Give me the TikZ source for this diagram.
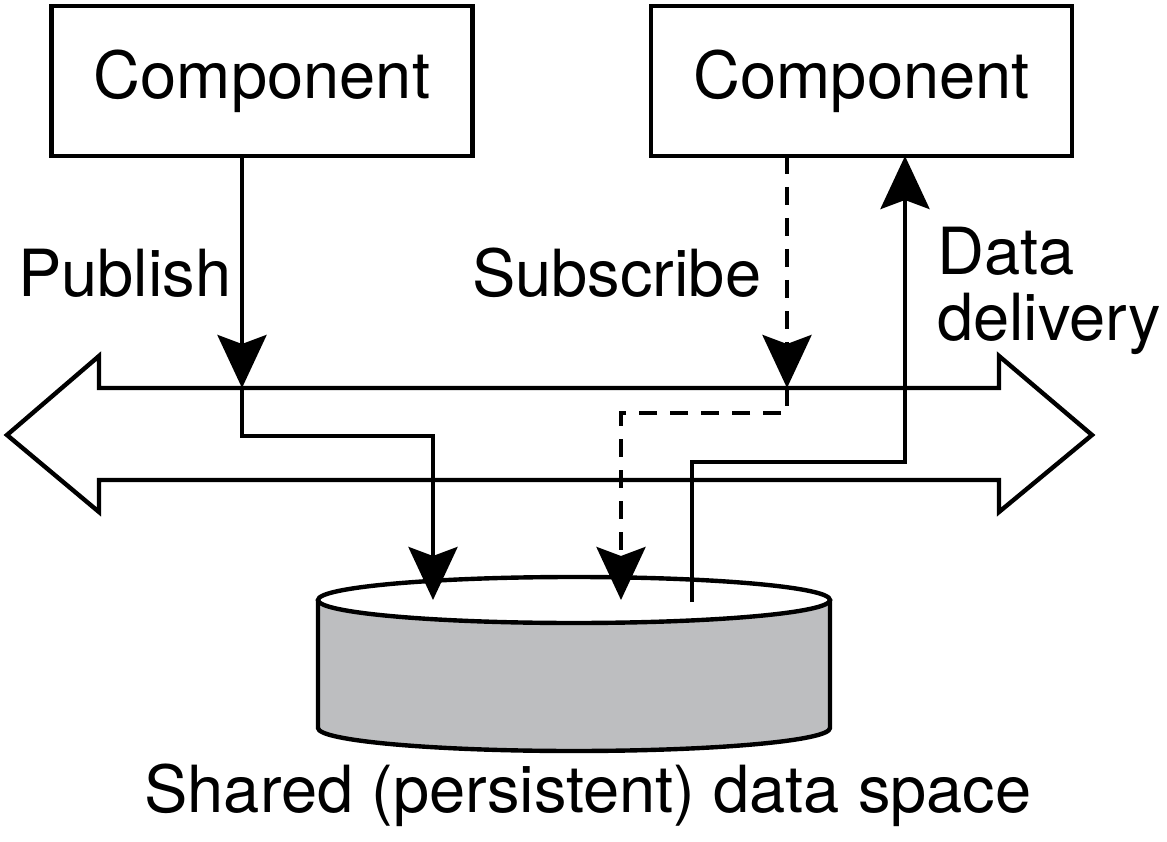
\documentclass[tikz,border=0pt]{standalone}
\usepackage{fontspec}
\setmainfont{TeX Gyre Heros}
\usetikzlibrary{arrows.meta}
\definecolor{cylgray}{RGB}{189,190,192}
\tikzset{
  lw/.style={line width=4.4pt},
  tip/.style={-{Stealth[length=53pt,width=49pt,inset=9pt]}},
  dsh/.style={dash pattern=on 18pt off 13pt},
  comp/.style={draw,lw,inner sep=0pt},
  lbl/.style={font=\fontsize{65}{78}\selectfont,inner sep=0pt},
}
\begin{document}
\begin{tikzpicture}[x=1pt,y=-1pt]
\useasboundingbox (0,0) rectangle (1167,842);
% components
\node[comp,minimum width=421pt,minimum height=150pt] (c1) at (262,81) {};
\node[lbl] (c1t) at (262,81) {Component};
\node[comp,minimum width=421pt,minimum height=150pt] (c2) at (861.5,81) {};
\node[lbl] (c2t) at (861.5,81) {Component};
% bus (double block arrow)
\draw[lw,line join=miter] (99,388) -- (99,356) -- (7,435) -- (99,512) -- (99,480) -- (999,480)
  -- (999,512) -- (1092,435) -- (999,356) -- (999,388) -- cycle;
% cylinder
\fill[cylgray] (318,600) -- (318,728) arc[start angle=180,end angle=360,x radius=256pt,y radius=23pt] -- (830,600) -- cycle;
\draw[lw] (318,600) -- (318,728) arc[start angle=180,end angle=360,x radius=256pt,y radius=23pt] -- (830,600);
\draw[lw,fill=white] (574,600) ellipse[x radius=256pt,y radius=23pt];
% coordinates
\coordinate (pubtop) at (242,156);
\coordinate (pubbus) at (242,388);
\coordinate (pubin) at (433,600);
\coordinate (subtop) at (787,156);
\coordinate (subbus) at (787,388);
\coordinate (subin) at (621,600);
\coordinate (dout) at (692,602);
\coordinate (dtop) at (905,156);
% publish
\draw[lw,tip] (pubtop) -- (pubbus);
\draw[lw,tip] (pubbus) -- (242,436) -- (433,436) -- (pubin);
% subscribe
\draw[lw,dsh,tip] (subtop) -- (subbus);
\draw[lw,dsh,tip] (subbus) -- (787,413) -- (621,413) -- (subin);
% data delivery
\draw[lw,tip] (dout) -- (692,462) -- (905,462) -- (dtop);
% labels
\node[lbl,anchor=base west] (lp) at (18,297) {Publish};
\node[lbl,anchor=base west] (ls) at (472,297) {Subscribe};
\node[lbl,anchor=base west] (ld1) at (937,275) {Data};
\node[lbl,anchor=base west] (ld2) at (937,340) {delivery};
\node[lbl,anchor=base] (lsh) at (588,812) {Shared (persistent) data space};
\end{tikzpicture}
\end{document}
